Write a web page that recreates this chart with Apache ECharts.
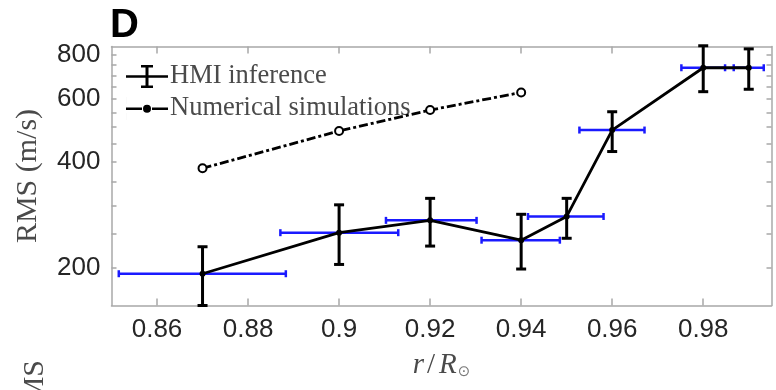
<!DOCTYPE html>
<html>
<head>
<meta charset="utf-8">
<script src="https://cdn.jsdelivr.net/npm/echarts@6/dist/echarts.min.js"></script>
<style>
  html, body { margin: 0; padding: 0; background: #ffffff; }
  #chart { width: 776px; height: 390px; }
</style>
</head>
<body>
<div id="chart"></div>
<script>
// Radial positions (r / R_sun) of the HMI inversion kernels
const r = [0.87, 0.90, 0.92, 0.94, 0.95, 0.96, 0.98, 0.99];
// RMS velocity inferred from HMI, with lower / upper uncertainty (m/s)
const rms = [193, 252, 273, 240, 280, 491, 736, 736];
const rmsLow = [157, 205, 231, 199, 243, 427, 630, 640];
const rmsHigh = [230, 302, 315, 284, 315, 553, 849, 832];
// Kernel widths in radius (left / right end of each horizontal bar)
const rLeft = [0.8516, 0.8871, 0.9103, 0.9313, 0.9415, 0.9528, 0.9752, 0.9867];
const rRight = [0.8883, 0.9130, 0.9302, 0.9485, 0.9581, 0.9671, 0.9848, 0.9933];
// Numerical simulation values
const rSim = [0.87, 0.90, 0.92, 0.94];
const rmsSim = [383, 488, 559, 627];
// Axis ticks
const xTicks = [0.86, 0.88, 0.90, 0.92, 0.94, 0.96, 0.98];
const yLabels = [200, 400, 600, 800];
const yTicks = [200, 250, 300, 350, 400, 450, 500, 550, 600, 650, 700, 750, 800];

const X_MIN = 0.85, X_MAX = 0.995;
const Y_MIN = 157, Y_MAX = 845;

const AXIS_GREY = '#a8a8a8';
const TEXT_DARK = '#262626';
const LABEL_GREY = '#4a4a4a';

const chart = echarts.init(document.getElementById('chart'), null, { renderer: 'canvas' });

const vertBars = r.map((x, i) => [x, rmsLow[i], rmsHigh[i]]);
const horizBars = r.map((x, i) => [rLeft[i], rRight[i], rms[i]]);

function renderVertical(params, api) {
  const x = api.value(0);
  const lo = api.coord([x, api.value(1)]);
  const hi = api.coord([x, api.value(2)]);
  const cap = 5;
  const style = { stroke: '#000', lineWidth: 3 };
  return {
    type: 'group',
    children: [
      { type: 'line', shape: { x1: lo[0], y1: lo[1], x2: hi[0], y2: hi[1] }, style },
      { type: 'line', shape: { x1: lo[0] - cap, y1: lo[1], x2: lo[0] + cap, y2: lo[1] }, style },
      { type: 'line', shape: { x1: hi[0] - cap, y1: hi[1], x2: hi[0] + cap, y2: hi[1] }, style }
    ]
  };
}

function renderHorizontal(params, api) {
  const y = api.value(2);
  const a = api.coord([api.value(0), y]);
  const b = api.coord([api.value(1), y]);
  const cap = 3.5;
  const style = { stroke: '#1a1aff', lineWidth: 2.5 };
  return {
    type: 'group',
    children: [
      { type: 'line', shape: { x1: a[0], y1: a[1], x2: b[0], y2: b[1] }, style },
      { type: 'line', shape: { x1: a[0], y1: a[1] - cap, x2: a[0], y2: a[1] + cap }, style },
      { type: 'line', shape: { x1: b[0], y1: b[1] - cap, x2: b[0], y2: b[1] + cap }, style }
    ]
  };
}

// Legend glyphs: an error-bar cross and a line with a dot
const errIcon = 'path://M0,10.25h42v2.5h-42z M19.5,0h3v23h-3z M15,0h12v2.5h-12z M15,20.5h12v2.5h-12z';
const simIcon = 'path://M0,10.5h16v2.5h-16z M26,10.5h16v2.5h-16z M25,11.75a4,4 0 1,0 -8,0a4,4 0 1,0 8,0z M-0.01,0h0.02v23h-0.02z';

const option = {
  animation: false,
  backgroundColor: '#ffffff',
  title: {
    text: 'D',
    left: 110,
    top: 6,
    padding: 0,
    textStyle: { fontFamily: 'Liberation Sans', fontWeight: 'bold', fontSize: 40, color: '#000' }
  },
  grid: { left: 111.5, right: 4.5, top: 46.5, bottom: 84.5 },
  legend: {
    orient: 'vertical',
    left: 126,
    top: 63,
    padding: 0,
    itemWidth: 42,
    itemHeight: 23,
    itemGap: 5,
    textStyle: { fontFamily: 'Liberation Serif', fontSize: 26.5, color: LABEL_GREY, padding: [0, 0, 0, -3] },
    data: [
      { name: 'HMI inference', icon: errIcon, itemStyle: { color: '#000' } },
      { name: 'Numerical simulations', icon: simIcon, itemStyle: { color: '#000', borderWidth: 0 } }
    ]
  },
  xAxis: [
    {
      type: 'value', min: X_MIN, max: X_MAX, position: 'bottom',
      name: '{i|r}{n|/}{i|R}{s|⊙}',
      nameLocation: 'middle', nameGap: 45,
      nameTextStyle: {
        rich: {
          i: { fontFamily: 'Liberation Serif', fontStyle: 'italic', fontSize: 29, color: LABEL_GREY },
          n: { fontFamily: 'Liberation Serif', fontSize: 29, color: LABEL_GREY, padding: [0, 4, 0, 3] },
          s: { fontFamily: 'DejaVu Sans', fontSize: 15, color: '#777', verticalAlign: 'bottom', padding: [14, 0, 0, 1] }
        }
      },
      axisLine: { show: true, onZero: false, lineStyle: { color: AXIS_GREY, width: 1.5 } },
      axisTick: { show: true, inside: true, length: 7, customValues: xTicks, lineStyle: { color: AXIS_GREY, width: 1.5 } },
      axisLabel: { customValues: xTicks, margin: 11, fontFamily: 'Liberation Sans', fontSize: 26, color: TEXT_DARK },
      splitLine: { show: false }
    },
    {
      type: 'value', min: X_MIN, max: X_MAX, position: 'top',
      axisLine: { show: true, onZero: false, lineStyle: { color: AXIS_GREY, width: 1.5 } },
      axisTick: { show: true, inside: true, length: 7, customValues: xTicks, lineStyle: { color: AXIS_GREY, width: 1.5 } },
      axisLabel: { show: false },
      splitLine: { show: false }
    }
  ],
  yAxis: [
    {
      type: 'log', min: Y_MIN, max: Y_MAX, position: 'left',
      name: 'RMS (m/s)',
      nameLocation: 'middle', nameGap: 68, nameRotate: 90,
      nameTextStyle: { fontFamily: 'Liberation Serif', fontSize: 30, color: LABEL_GREY },
      axisLine: { show: true, onZero: false, lineStyle: { color: AXIS_GREY, width: 1.5 } },
      axisTick: { show: true, inside: true, length: 5, customValues: yTicks, lineStyle: { color: AXIS_GREY, width: 1.5 } },
      axisLabel: { customValues: yLabels, margin: 11, fontFamily: 'Liberation Sans', fontSize: 26, color: TEXT_DARK },
      minorTick: { show: false },
      splitLine: { show: false }
    },
    {
      type: 'log', min: Y_MIN, max: Y_MAX, position: 'right',
      axisLine: { show: true, onZero: false, lineStyle: { color: AXIS_GREY, width: 1.5 } },
      axisTick: { show: true, inside: true, length: 5, customValues: yTicks, lineStyle: { color: AXIS_GREY, width: 1.5 } },
      axisLabel: { show: false },
      splitLine: { show: false }
    }
  ],
  series: [
    {
      name: 'kernel width',
      type: 'custom',
      xAxisIndex: 0, yAxisIndex: 0,
      renderItem: renderHorizontal,
      encode: { x: [0, 1], y: 2 },
      data: horizBars,
      clip: false,
      z: 2
    },
    {
      name: 'HMI inference',
      type: 'line',
      xAxisIndex: 0, yAxisIndex: 0,
      data: r.map((x, i) => [x, rms[i]]),
      symbol: 'circle',
      symbolSize: 6,
      itemStyle: { color: '#000' },
      lineStyle: { color: '#000', width: 2.8 },
      z: 4
    },
    {
      name: 'HMI error',
      type: 'custom',
      xAxisIndex: 0, yAxisIndex: 0,
      renderItem: renderVertical,
      encode: { x: 0, y: [1, 2] },
      data: vertBars,
      clip: false,
      z: 3
    },
    {
      name: 'Numerical simulations',
      type: 'line',
      xAxisIndex: 0, yAxisIndex: 0,
      data: rSim.map((x, i) => [x, rmsSim[i]]),
      symbol: 'emptyCircle',
      symbolSize: 8,
      itemStyle: { color: '#000', borderColor: '#000', borderWidth: 2.6 },
      lineStyle: { color: '#000', width: 2.8, type: [9, 3, 3, 3] },
      z: 4
    }
  ],
  graphic: [
    {
      // y-label of the panel below, partly in view
      type: 'text',
      x: 35,
      y: 360,
      rotation: Math.PI / 2,
      style: {
        text: 'RMS',
        align: 'right',
        verticalAlign: 'middle',
        fontFamily: 'Liberation Serif',
        fontSize: 30,
        fill: LABEL_GREY
      },
      silent: true
    }
  ]
};

chart.setOption(option);
</script>
</body>
</html>
